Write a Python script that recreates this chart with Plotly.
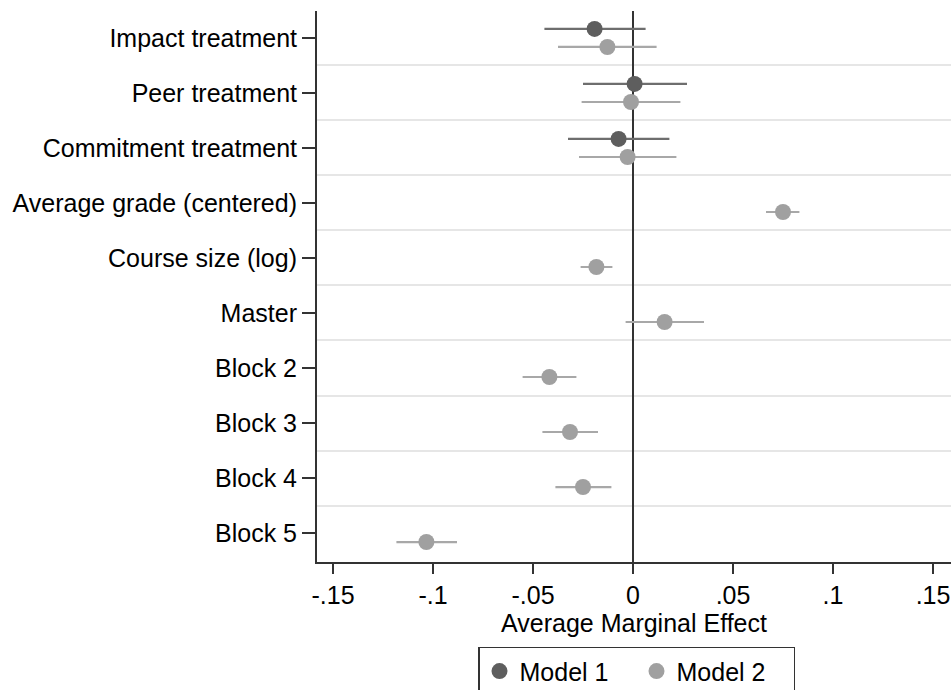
import plotly.graph_objects as go

labels = ["Impact treatment", "Peer treatment", "Commitment treatment",
          "Average grade (centered)", "Course size (log)", "Master",
          "Block 2", "Block 3", "Block 4", "Block 5"]

# Model 1 (treatments only)
m1_idx = [1, 2, 3]
m1_est = [-0.0192, 0.0008, -0.0072]
m1_lo = [-0.0443, -0.0250, -0.0325]
m1_hi = [0.0063, 0.0270, 0.0182]

# Model 2 (all covariates)
m2_idx = [1, 2, 3, 4, 5, 6, 7, 8, 9, 10]
m2_est = [-0.0128, -0.0010, -0.0027, 0.0750, -0.0183, 0.0158, -0.0418, -0.0315, -0.0250, -0.1033]
m2_lo = [-0.0375, -0.0257, -0.0270, 0.0665, -0.0262, -0.0037, -0.0552, -0.0453, -0.0388, -0.1183]
m2_hi = [0.0118, 0.0237, 0.0217, 0.0832, -0.0103, 0.0355, -0.0283, -0.0175, -0.0108, -0.0880]

xticks = [-0.15, -0.1, -0.05, 0, 0.05, 0.1, 0.15]
xticklabels = ["-.15", "-.1", "-.05", "0", ".05", ".1", ".15"]

OFF = 0.164
FONT = "Liberation Sans, Arial, Helvetica, sans-serif"
FS = 25

fig = go.Figure()

def add_model(name, idx, est, lo, hi, dot, line, off):
    fig.add_trace(go.Scatter(
        x=est, y=[i + off for i in idx], mode="markers", name=name,
        marker=dict(size=16, color=dot),
        error_x=dict(type="data", symmetric=False,
                     array=[h - e for h, e in zip(hi, est)],
                     arrayminus=[e - l for e, l in zip(est, lo)],
                     color=line, thickness=2.2, width=0),
    ))

add_model("Model 1", m1_idx, m1_est, m1_lo, m1_hi, "#5e5e5e", "#6e6e6e", -OFF)
add_model("Model 2", m2_idx, m2_est, m2_lo, m2_hi, "#a0a0a0", "#a8a8a8", OFF)

fig.update_layout(
    width=951, height=690,
    margin=dict(l=317, r=0, t=11, b=128, autoexpand=False),
    paper_bgcolor="white", plot_bgcolor="white",
    font=dict(family=FONT, size=FS, color="black"),
    showlegend=True,
    legend=dict(orientation="h", x=(478 - 317) / 634, xanchor="left", y=-0.154, yanchor="top",
                bordercolor="#333333", borderwidth=1.5, font=dict(size=FS),
                entrywidth=112, entrywidthmode="pixels", itemwidth=30,
                traceorder="normal"),
    xaxis=dict(range=[-0.158, 0.159], tickvals=xticks, ticktext=xticklabels,
               showgrid=False, zeroline=True, zerolinecolor="#333333", zerolinewidth=2,
               showline=True, linecolor="#333333", linewidth=2,
               ticks="outside", ticklen=10, tickwidth=2, tickcolor="#333333",
               title=dict(text="Average Marginal Effect", standoff=6, font=dict(size=FS)),
               automargin=False, fixedrange=True),
    yaxis=dict(range=[10.527, 0.51], tickvals=list(range(1, 11)), ticktext=labels,
               showgrid=False, zeroline=False,
               showline=True, linecolor="#333333", linewidth=2,
               ticks="outside", ticklen=13, tickwidth=2, tickcolor="#333333",
               minor=dict(tickvals=[i + 0.5 for i in range(1, 10)], showgrid=True,
                          gridcolor="#e6e6e6", gridwidth=2, ticks=""),
               automargin=False, fixedrange=True),
)

fig.write_html("out.html", config={"displayModeBar": False},
               post_script="document.body.style.margin='0px';document.body.style.overflow='hidden';")
